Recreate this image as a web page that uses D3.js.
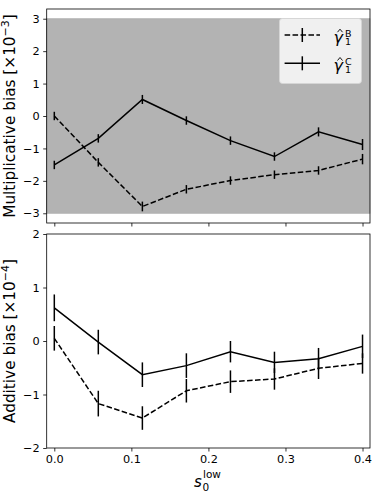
<!DOCTYPE html>
<html><head><meta charset="utf-8">
<script src="https://cdn.jsdelivr.net/npm/d3@7"></script>
<style>body{margin:0;background:#fff}svg{display:block}text{font-family:"DejaVu Sans",sans-serif;fill:#000}</style>
</head><body>
<script>
const xs = [0.0, 0.0571, 0.1143, 0.1714, 0.2286, 0.2857, 0.3429, 0.4];
const xTicks = [0.0, 0.1, 0.2, 0.3, 0.4];
const multB = [0.0, -1.43, -2.79, -2.26, -1.99, -1.81, -1.68, -1.33];
const multBErr = [0.13, 0.13, 0.15, 0.13, 0.13, 0.13, 0.13, 0.16];
const multC = [-1.51, -0.69, 0.51, -0.14, -0.76, -1.25, -0.49, -0.88];
const multCErr = [0.13, 0.13, 0.14, 0.13, 0.13, 0.13, 0.14, 0.17];
const multTicks = [-3, -2, -1, 0, 1, 2, 3];
const addB = [0.05, -1.17, -1.44, -0.93, -0.76, -0.71, -0.51, -0.42];
const addBErr = [0.23, 0.24, 0.22, 0.22, 0.21, 0.2, 0.2, 0.19];
const addC = [0.62, -0.02, -0.63, -0.46, -0.2, -0.4, -0.33, -0.1];
const addCErr = [0.25, 0.23, 0.23, 0.23, 0.2, 0.2, 0.2, 0.22];
const addTicks = [-2, -1, 0, 1, 2];
const legendSups = ["B", "C"];

const W = 374, H = 498;
const svg = d3.select("body").append("svg").attr("width", W).attr("height", H);

const x = d3.scaleLinear().domain([-0.00987, 0.4097]).range([46.7, 370]);
const yTop = d3.scaleLinear().domain([-3.3, 3.3]).range([223, 9]);
const yBot = d3.scaleLinear().domain([-2, 2]).range([448, 234]);

const tickFont = "11.3px";

function panel(y, B, BErr, C, CErr, ticks, label, sup, showXLabels, band) {
  const g = svg.append("g");
  const [x0, x1] = x.range();
  const [yb, yt] = y.range();
  if (band) {
    g.append("rect").attr("x", x0).attr("width", x1 - x0)
      .attr("y", y(3)).attr("height", y(-3) - y(3))
      .attr("fill", "#b3b3b3").attr("stroke", "#a6a6a6").attr("stroke-width", 0.6);
  }
  const line = d3.line().x((d, i) => x(xs[i])).y(d => y(d));
  [[B, BErr], [C, CErr]].forEach(([v, e]) => {
    g.selectAll(null).data(v).enter().append("line")
      .attr("x1", (d, i) => x(xs[i])).attr("x2", (d, i) => x(xs[i]))
      .attr("y1", (d, i) => y(d - e[i])).attr("y2", (d, i) => y(d + e[i]))
      .attr("stroke", "#000").attr("stroke-width", 1.5);
  });
  g.append("path").attr("d", line(B)).attr("fill", "none").attr("stroke", "#000")
    .attr("stroke-width", 1.5).attr("stroke-dasharray", "5.55,2.4");
  g.append("path").attr("d", line(C)).attr("fill", "none").attr("stroke", "#000")
    .attr("stroke-width", 1.5);
  g.append("rect").attr("x", x0).attr("y", yt).attr("width", x1 - x0).attr("height", yb - yt)
    .attr("fill", "none").attr("stroke", "#000").attr("stroke-width", 0.8);
  const ya = g.append("g").attr("transform", `translate(${x0},0)`)
    .call(d3.axisLeft(y).tickValues(ticks).tickSize(3.5).tickPadding(3.5).tickFormat(d => d < 0 ? "\u2212" + Math.abs(d) : d));
  ya.select(".domain").remove();
  ya.selectAll("line").attr("stroke", "#000").attr("stroke-width", 0.8);
  ya.selectAll("text").style("font-size", tickFont).style("font-family", "DejaVu Sans").attr("fill", "#000");
  const xa = g.append("g").attr("transform", `translate(0,${yb})`)
    .call(d3.axisBottom(x).tickValues(xTicks).tickSize(3.5).tickPadding(3.5).tickFormat(showXLabels ? d3.format(".1f") : () => ""));
  xa.select(".domain").remove();
  xa.selectAll("line").attr("stroke", "#000").attr("stroke-width", 0.8);
  xa.selectAll("text").style("font-size", tickFont).style("font-family", "DejaVu Sans").attr("fill", "#000");
  const cy = (yb + yt) / 2;
  const t = g.append("text").attr("transform", `translate(15,${cy}) rotate(-90)`)
    .attr("text-anchor", "middle").style("font-size", "15.3px");
  t.append("tspan").text(label + " [\u00d710");
  t.append("tspan").attr("dy", -6).style("font-size", "11px").text("\u2212" + sup);
  t.append("tspan").attr("dy", 6).text("]");
  return g;
}

panel(yTop, multB, multBErr, multC, multCErr, multTicks, "Multiplicative bias", "3", false, true);
panel(yBot, addB, addBErr, addC, addCErr, addTicks, "Additive bias", "4", true, false);

const xl = svg.append("text").attr("x", 194).attr("y", 487).style("font-size", "15px");
xl.append("tspan").style("font-style", "italic").text("s");
xl.append("tspan").attr("x", 202.5).attr("dy", 3.5).style("font-size", "10.5px").text("0");
xl.append("tspan").attr("x", 203).attr("dy", -12.5).style("font-size", "10.5px").text("low");

const lg = svg.append("g");
lg.append("rect").attr("x", 279.5).attr("y", 18.5).attr("width", 82).attr("height", 65).attr("rx", 3)
  .attr("fill", "#f0f0f0").attr("stroke", "#d6d6d6").attr("stroke-width", 0.8);
const itemY = [35, 63.3];
legendSups.forEach((s, i) => {
  const yy = itemY[i];
  const l = lg.append("line").attr("x1", 284.6).attr("x2", 320).attr("y1", yy).attr("y2", yy)
    .attr("stroke", "#000").attr("stroke-width", 1.5);
  if (i === 0) l.attr("stroke-dasharray", "5.55,2.4");
  lg.append("line").attr("x1", 302.3).attr("x2", 302.3).attr("y1", yy - 7).attr("y2", yy + 7)
    .attr("stroke", "#000").attr("stroke-width", 1.5);
  const t = lg.append("text").attr("x", 333.5).attr("y", yy + 8).style("font-size", "16px");
  t.append("tspan").style("font-style", "italic").text("\u03b3");
  t.append("tspan").attr("x", 345).attr("dy", -6.3).style("font-size", "9.5px").text(s);
  t.append("tspan").attr("x", 345).attr("dy", 8.3).style("font-size", "9.5px").text("1");
  lg.append("path").attr("d", `M${337.5},${yy - 2.8} L${340},${yy - 5.8} L${342.5},${yy - 2.8}`)
    .attr("fill", "none").attr("stroke", "#000").attr("stroke-width", 0.9);
});
</script>
</body></html>
